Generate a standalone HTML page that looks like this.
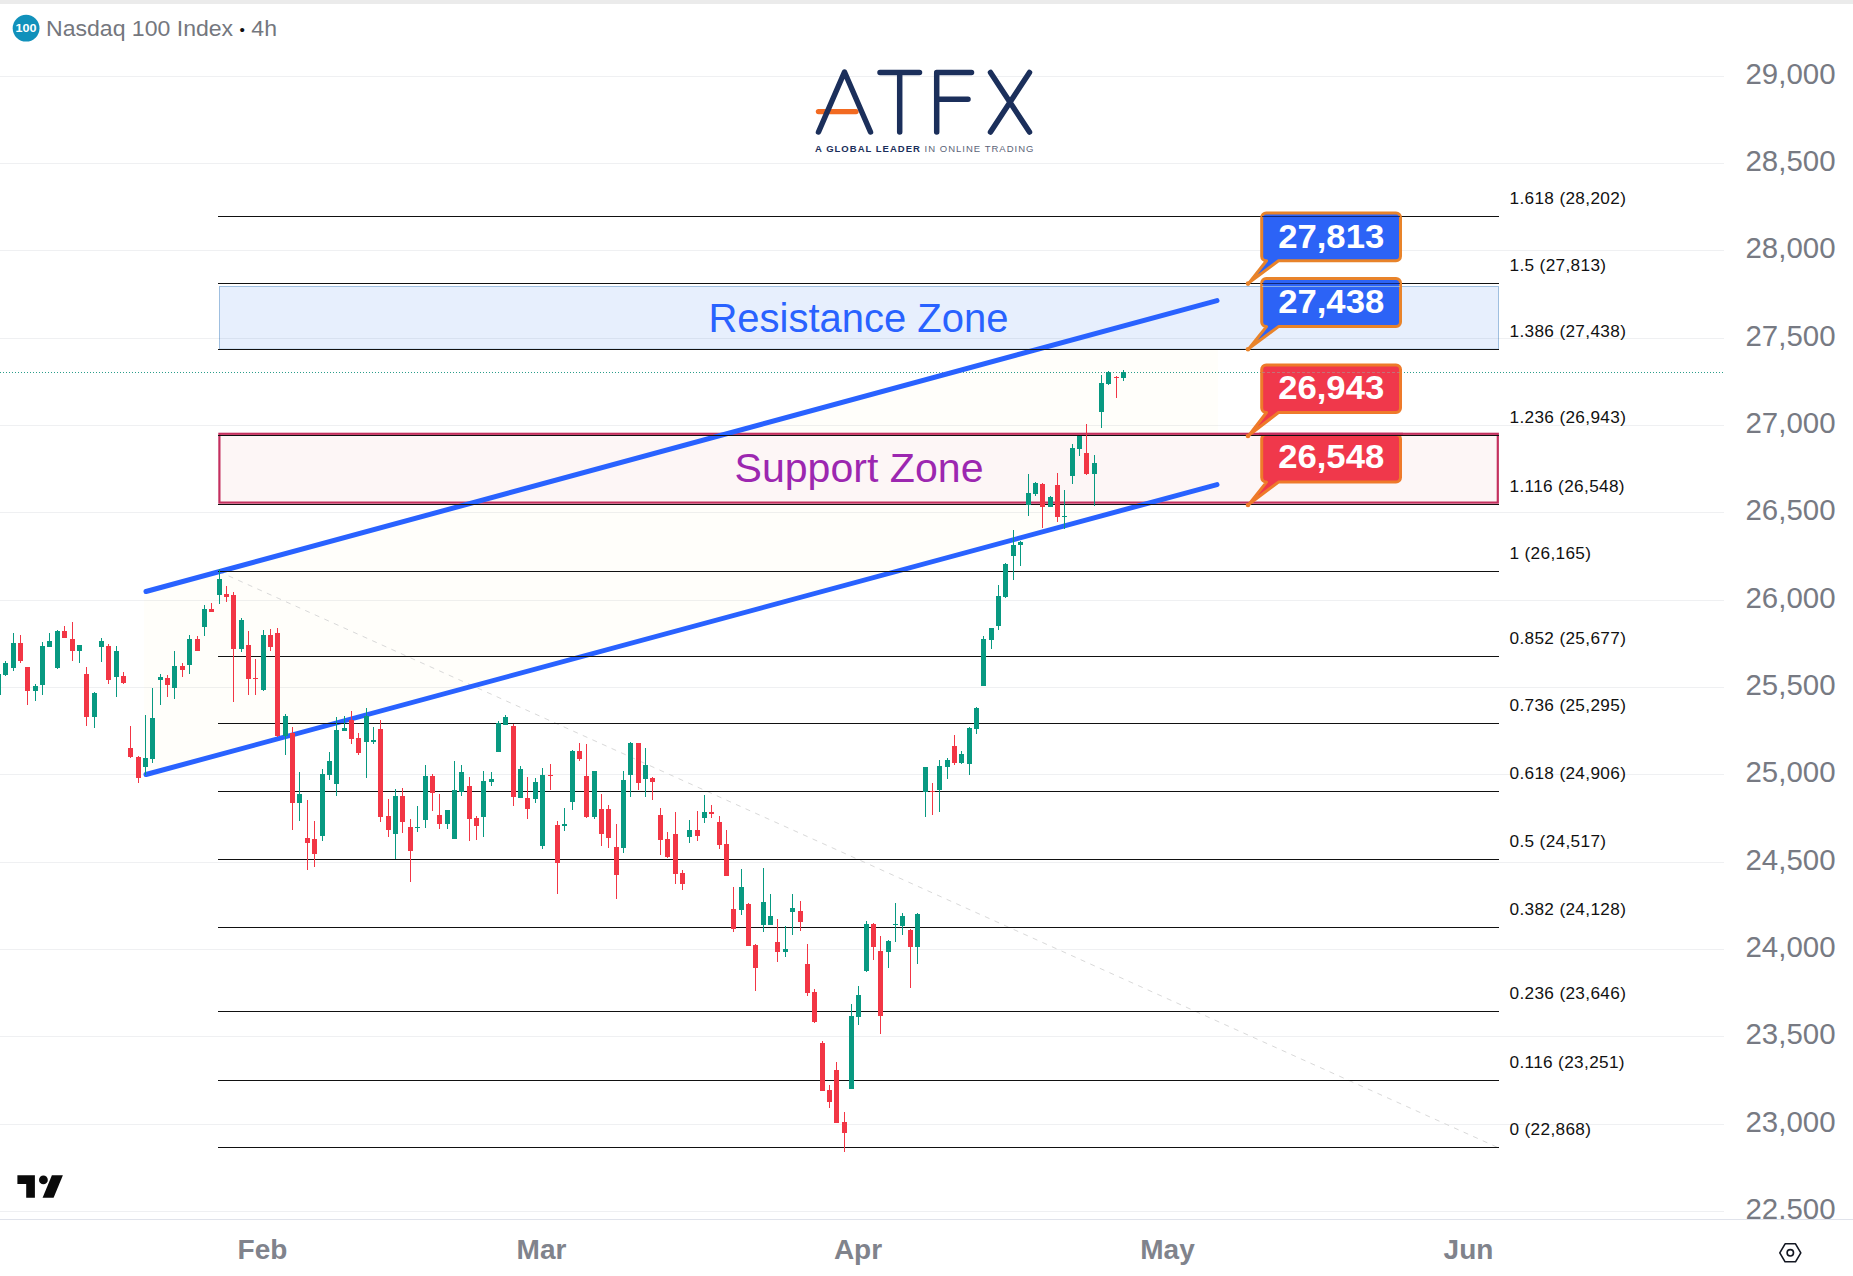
<!DOCTYPE html>
<html lang="en"><head><meta charset="utf-8"><title>Nasdaq 100 Index 4h</title>
<style>
html,body{margin:0;padding:0;background:#fff;}
body{width:1853px;height:1276px;overflow:hidden;}
svg{display:block;font-family:"Liberation Sans","DejaVu Sans",sans-serif;}
.fib{font-size:17.2px;fill:#111;letter-spacing:.35px;}
.pr{font-size:29px;fill:#777a83;}
.mon{font-size:28px;font-weight:700;fill:#80838c;}
.zone{font-size:41px;}
.co{font-size:32.5px;font-weight:700;fill:#fff;}
.hdr{font-size:22.5px;fill:#74777e;}
.hundred{font-size:11px;font-weight:700;fill:#fff;}
.tag{font-size:9.5px;}
</style></head><body>
<svg width="1853" height="1276" viewBox="0 0 1853 1276">
<polygon points="144,592 1218,300.6 1218,484.4 144,775" fill="#fffefa"/>
<rect x="219.5" y="286.5" width="1279" height="62.7" fill="#e7effd" stroke="#9fbfe0" stroke-width="1"/>
<rect x="219.4" y="433.8" width="1278.4" height="68.8" fill="#fdf6f6"/>
<line x1="0" y1="76.5" x2="1724" y2="76.5" stroke="#1a2a44" stroke-opacity="0.07" stroke-width="1"/>
<line x1="0" y1="163.5" x2="1724" y2="163.5" stroke="#1a2a44" stroke-opacity="0.07" stroke-width="1"/>
<line x1="0" y1="250.5" x2="1724" y2="250.5" stroke="#1a2a44" stroke-opacity="0.07" stroke-width="1"/>
<line x1="0" y1="338.5" x2="1724" y2="338.5" stroke="#1a2a44" stroke-opacity="0.07" stroke-width="1"/>
<line x1="0" y1="425.5" x2="1724" y2="425.5" stroke="#1a2a44" stroke-opacity="0.07" stroke-width="1"/>
<line x1="0" y1="512.5" x2="1724" y2="512.5" stroke="#1a2a44" stroke-opacity="0.07" stroke-width="1"/>
<line x1="0" y1="600.5" x2="1724" y2="600.5" stroke="#1a2a44" stroke-opacity="0.07" stroke-width="1"/>
<line x1="0" y1="687.5" x2="1724" y2="687.5" stroke="#1a2a44" stroke-opacity="0.07" stroke-width="1"/>
<line x1="0" y1="774.5" x2="1724" y2="774.5" stroke="#1a2a44" stroke-opacity="0.07" stroke-width="1"/>
<line x1="0" y1="862.5" x2="1724" y2="862.5" stroke="#1a2a44" stroke-opacity="0.07" stroke-width="1"/>
<line x1="0" y1="949.5" x2="1724" y2="949.5" stroke="#1a2a44" stroke-opacity="0.07" stroke-width="1"/>
<line x1="0" y1="1036.5" x2="1724" y2="1036.5" stroke="#1a2a44" stroke-opacity="0.07" stroke-width="1"/>
<line x1="0" y1="1124.5" x2="1724" y2="1124.5" stroke="#1a2a44" stroke-opacity="0.07" stroke-width="1"/>
<line x1="0" y1="1211.5" x2="1724" y2="1211.5" stroke="#1a2a44" stroke-opacity="0.07" stroke-width="1"/>
<rect x="219.4" y="433.8" width="1278.4" height="68.8" fill="none" stroke="#c4305f" stroke-width="2.2"/>
<line x1="219" y1="571.6" x2="1498" y2="1147.6" stroke="#d9d9d9" stroke-width="1" stroke-dasharray="5 5.5"/>
<line x1="0" y1="372.5" x2="1724" y2="372.5" stroke="#2a9d8a" stroke-width="1" stroke-dasharray="1 2"/>
<line x1="146" y1="591.5" x2="1217" y2="300.6" stroke="#2962ff" stroke-width="5" stroke-linecap="round"/>
<line x1="146" y1="774.5" x2="1217" y2="484.6" stroke="#2962ff" stroke-width="5" stroke-linecap="round"/>
<line x1="218" y1="216.5" x2="1499" y2="216.5" stroke="#111" stroke-width="1"/>
<text x="1509.5" y="204.0" class="fib">1.618 (28,202)</text>
<line x1="218" y1="283.5" x2="1499" y2="283.5" stroke="#111" stroke-width="1"/>
<text x="1509.5" y="271.0" class="fib">1.5 (27,813)</text>
<line x1="218" y1="349.5" x2="1499" y2="349.5" stroke="#111" stroke-width="1"/>
<text x="1509.5" y="337.0" class="fib">1.386 (27,438)</text>
<line x1="218" y1="435.5" x2="1499" y2="435.5" stroke="#111" stroke-width="1"/>
<text x="1509.5" y="423.0" class="fib">1.236 (26,943)</text>
<line x1="218" y1="504.5" x2="1499" y2="504.5" stroke="#111" stroke-width="1"/>
<text x="1509.5" y="492.0" class="fib">1.116 (26,548)</text>
<line x1="218" y1="571.5" x2="1499" y2="571.5" stroke="#111" stroke-width="1"/>
<text x="1509.5" y="559.0" class="fib">1 (26,165)</text>
<line x1="218" y1="656.5" x2="1499" y2="656.5" stroke="#111" stroke-width="1"/>
<text x="1509.5" y="644.0" class="fib">0.852 (25,677)</text>
<line x1="218" y1="723.5" x2="1499" y2="723.5" stroke="#111" stroke-width="1"/>
<text x="1509.5" y="711.0" class="fib">0.736 (25,295)</text>
<line x1="218" y1="791.5" x2="1499" y2="791.5" stroke="#111" stroke-width="1"/>
<text x="1509.5" y="779.0" class="fib">0.618 (24,906)</text>
<line x1="218" y1="859.5" x2="1499" y2="859.5" stroke="#111" stroke-width="1"/>
<text x="1509.5" y="847.0" class="fib">0.5 (24,517)</text>
<line x1="218" y1="927.5" x2="1499" y2="927.5" stroke="#111" stroke-width="1"/>
<text x="1509.5" y="915.0" class="fib">0.382 (24,128)</text>
<line x1="218" y1="1011.5" x2="1499" y2="1011.5" stroke="#111" stroke-width="1"/>
<text x="1509.5" y="999.0" class="fib">0.236 (23,646)</text>
<line x1="218" y1="1080.5" x2="1499" y2="1080.5" stroke="#111" stroke-width="1"/>
<text x="1509.5" y="1068.0" class="fib">0.116 (23,251)</text>
<line x1="218" y1="1147.5" x2="1499" y2="1147.5" stroke="#111" stroke-width="1"/>
<text x="1509.5" y="1135.0" class="fib">0 (22,868)</text>
<rect x="-2" y="672" width="1" height="26" fill="#089981"/>
<rect x="-4" y="674" width="5" height="21" fill="#089981"/>
<rect x="5" y="661" width="1" height="15" fill="#089981"/>
<rect x="3" y="663" width="5" height="12" fill="#089981"/>
<rect x="13" y="633" width="1" height="38" fill="#089981"/>
<rect x="11" y="643" width="5" height="25" fill="#089981"/>
<rect x="20" y="635" width="1" height="28" fill="#f23645"/>
<rect x="18" y="643" width="5" height="18" fill="#f23645"/>
<rect x="27" y="667" width="1" height="38" fill="#f23645"/>
<rect x="25" y="667" width="5" height="24" fill="#f23645"/>
<rect x="35" y="684" width="1" height="17" fill="#089981"/>
<rect x="33" y="686" width="5" height="5" fill="#089981"/>
<rect x="42" y="642" width="1" height="53" fill="#089981"/>
<rect x="40" y="646" width="5" height="39" fill="#089981"/>
<rect x="49" y="633" width="1" height="14" fill="#089981"/>
<rect x="47" y="641" width="5" height="6" fill="#089981"/>
<rect x="57" y="630" width="1" height="39" fill="#089981"/>
<rect x="55" y="631" width="5" height="37" fill="#089981"/>
<rect x="64" y="626" width="1" height="12" fill="#f23645"/>
<rect x="62" y="631" width="5" height="7" fill="#f23645"/>
<rect x="72" y="622" width="1" height="39" fill="#f23645"/>
<rect x="70" y="639" width="5" height="12" fill="#f23645"/>
<rect x="79" y="645" width="1" height="18" fill="#089981"/>
<rect x="77" y="645" width="5" height="6" fill="#089981"/>
<rect x="86" y="667" width="1" height="59" fill="#f23645"/>
<rect x="84" y="674" width="5" height="43" fill="#f23645"/>
<rect x="94" y="692" width="1" height="36" fill="#089981"/>
<rect x="92" y="693" width="5" height="24" fill="#089981"/>
<rect x="101" y="638" width="1" height="24" fill="#089981"/>
<rect x="99" y="641" width="5" height="6" fill="#089981"/>
<rect x="108" y="644" width="1" height="40" fill="#f23645"/>
<rect x="106" y="646" width="5" height="34" fill="#f23645"/>
<rect x="116" y="646" width="1" height="51" fill="#089981"/>
<rect x="114" y="651" width="5" height="26" fill="#089981"/>
<rect x="123" y="672" width="1" height="12" fill="#f23645"/>
<rect x="121" y="676" width="5" height="7" fill="#f23645"/>
<rect x="130" y="726" width="1" height="32" fill="#f23645"/>
<rect x="128" y="748" width="5" height="9" fill="#f23645"/>
<rect x="138" y="756" width="1" height="27" fill="#f23645"/>
<rect x="136" y="757" width="5" height="21" fill="#f23645"/>
<rect x="145" y="715" width="1" height="60" fill="#089981"/>
<rect x="143" y="758" width="5" height="9" fill="#089981"/>
<rect x="152" y="688" width="1" height="75" fill="#089981"/>
<rect x="150" y="718" width="5" height="41" fill="#089981"/>
<rect x="160" y="674" width="1" height="31" fill="#089981"/>
<rect x="158" y="677" width="5" height="3" fill="#089981"/>
<rect x="167" y="675" width="1" height="22" fill="#f23645"/>
<rect x="165" y="678" width="5" height="7" fill="#f23645"/>
<rect x="174" y="651" width="1" height="48" fill="#089981"/>
<rect x="172" y="666" width="5" height="22" fill="#089981"/>
<rect x="182" y="663" width="1" height="14" fill="#f23645"/>
<rect x="180" y="666" width="5" height="4" fill="#f23645"/>
<rect x="189" y="635" width="1" height="39" fill="#089981"/>
<rect x="187" y="639" width="5" height="26" fill="#089981"/>
<rect x="197" y="636" width="1" height="15" fill="#f23645"/>
<rect x="195" y="639" width="5" height="12" fill="#f23645"/>
<rect x="204" y="605" width="1" height="31" fill="#089981"/>
<rect x="202" y="609" width="5" height="18" fill="#089981"/>
<rect x="211" y="603" width="1" height="9" fill="#f23645"/>
<rect x="209" y="609" width="5" height="3" fill="#f23645"/>
<rect x="219" y="569" width="1" height="35" fill="#089981"/>
<rect x="217" y="579" width="5" height="16" fill="#089981"/>
<rect x="226" y="586" width="1" height="16" fill="#f23645"/>
<rect x="224" y="594" width="5" height="3" fill="#f23645"/>
<rect x="233" y="592" width="1" height="110" fill="#f23645"/>
<rect x="231" y="595" width="5" height="54" fill="#f23645"/>
<rect x="241" y="618" width="1" height="34" fill="#089981"/>
<rect x="239" y="620" width="5" height="29" fill="#089981"/>
<rect x="248" y="631" width="1" height="64" fill="#f23645"/>
<rect x="246" y="645" width="5" height="34" fill="#f23645"/>
<rect x="255" y="659" width="1" height="36" fill="#f23645"/>
<rect x="253" y="678" width="5" height="1" fill="#f23645"/>
<rect x="263" y="630" width="1" height="61" fill="#089981"/>
<rect x="261" y="635" width="5" height="55" fill="#089981"/>
<rect x="270" y="629" width="1" height="22" fill="#f23645"/>
<rect x="268" y="635" width="5" height="12" fill="#f23645"/>
<rect x="277" y="628" width="1" height="109" fill="#f23645"/>
<rect x="275" y="633" width="5" height="103" fill="#f23645"/>
<rect x="285" y="714" width="1" height="41" fill="#089981"/>
<rect x="283" y="716" width="5" height="20" fill="#089981"/>
<rect x="292" y="727" width="1" height="103" fill="#f23645"/>
<rect x="290" y="733" width="5" height="70" fill="#f23645"/>
<rect x="299" y="772" width="1" height="49" fill="#089981"/>
<rect x="297" y="794" width="5" height="9" fill="#089981"/>
<rect x="307" y="800" width="1" height="70" fill="#f23645"/>
<rect x="305" y="838" width="5" height="5" fill="#f23645"/>
<rect x="314" y="821" width="1" height="46" fill="#f23645"/>
<rect x="312" y="839" width="5" height="15" fill="#f23645"/>
<rect x="322" y="769" width="1" height="72" fill="#089981"/>
<rect x="320" y="774" width="5" height="62" fill="#089981"/>
<rect x="329" y="752" width="1" height="28" fill="#089981"/>
<rect x="327" y="761" width="5" height="14" fill="#089981"/>
<rect x="336" y="717" width="1" height="79" fill="#089981"/>
<rect x="334" y="730" width="5" height="54" fill="#089981"/>
<rect x="344" y="716" width="1" height="15" fill="#089981"/>
<rect x="342" y="728" width="5" height="3" fill="#089981"/>
<rect x="351" y="711" width="1" height="33" fill="#f23645"/>
<rect x="349" y="720" width="5" height="19" fill="#f23645"/>
<rect x="358" y="733" width="1" height="22" fill="#f23645"/>
<rect x="356" y="738" width="5" height="15" fill="#f23645"/>
<rect x="366" y="708" width="1" height="70" fill="#089981"/>
<rect x="364" y="716" width="5" height="26" fill="#089981"/>
<rect x="373" y="727" width="1" height="17" fill="#089981"/>
<rect x="371" y="740" width="5" height="2" fill="#089981"/>
<rect x="380" y="720" width="1" height="102" fill="#f23645"/>
<rect x="378" y="729" width="5" height="88" fill="#f23645"/>
<rect x="388" y="799" width="1" height="38" fill="#f23645"/>
<rect x="386" y="816" width="5" height="14" fill="#f23645"/>
<rect x="395" y="789" width="1" height="70" fill="#089981"/>
<rect x="393" y="796" width="5" height="38" fill="#089981"/>
<rect x="402" y="788" width="1" height="45" fill="#f23645"/>
<rect x="400" y="796" width="5" height="26" fill="#f23645"/>
<rect x="410" y="819" width="1" height="63" fill="#f23645"/>
<rect x="408" y="827" width="5" height="24" fill="#f23645"/>
<rect x="417" y="806" width="1" height="26" fill="#089981"/>
<rect x="415" y="827" width="5" height="1" fill="#089981"/>
<rect x="425" y="765" width="1" height="63" fill="#089981"/>
<rect x="423" y="776" width="5" height="44" fill="#089981"/>
<rect x="432" y="774" width="1" height="37" fill="#f23645"/>
<rect x="430" y="776" width="5" height="17" fill="#f23645"/>
<rect x="439" y="794" width="1" height="35" fill="#f23645"/>
<rect x="437" y="815" width="5" height="9" fill="#f23645"/>
<rect x="447" y="810" width="1" height="19" fill="#089981"/>
<rect x="445" y="810" width="5" height="14" fill="#089981"/>
<rect x="454" y="761" width="1" height="78" fill="#089981"/>
<rect x="452" y="790" width="5" height="49" fill="#089981"/>
<rect x="461" y="765" width="1" height="31" fill="#089981"/>
<rect x="459" y="772" width="5" height="20" fill="#089981"/>
<rect x="469" y="777" width="1" height="64" fill="#f23645"/>
<rect x="467" y="786" width="5" height="33" fill="#f23645"/>
<rect x="476" y="816" width="1" height="24" fill="#f23645"/>
<rect x="474" y="818" width="5" height="8" fill="#f23645"/>
<rect x="483" y="771" width="1" height="66" fill="#089981"/>
<rect x="481" y="781" width="5" height="36" fill="#089981"/>
<rect x="491" y="772" width="1" height="14" fill="#089981"/>
<rect x="489" y="779" width="5" height="3" fill="#089981"/>
<rect x="498" y="721" width="1" height="31" fill="#089981"/>
<rect x="496" y="723" width="5" height="29" fill="#089981"/>
<rect x="505" y="715" width="1" height="10" fill="#089981"/>
<rect x="503" y="717" width="5" height="8" fill="#089981"/>
<rect x="513" y="724" width="1" height="82" fill="#f23645"/>
<rect x="511" y="726" width="5" height="71" fill="#f23645"/>
<rect x="520" y="766" width="1" height="32" fill="#089981"/>
<rect x="518" y="769" width="5" height="29" fill="#089981"/>
<rect x="527" y="777" width="1" height="42" fill="#f23645"/>
<rect x="525" y="798" width="5" height="11" fill="#f23645"/>
<rect x="535" y="778" width="1" height="25" fill="#089981"/>
<rect x="533" y="782" width="5" height="17" fill="#089981"/>
<rect x="542" y="768" width="1" height="81" fill="#089981"/>
<rect x="540" y="775" width="5" height="71" fill="#089981"/>
<rect x="550" y="764" width="1" height="26" fill="#f23645"/>
<rect x="548" y="775" width="5" height="1" fill="#f23645"/>
<rect x="557" y="821" width="1" height="73" fill="#f23645"/>
<rect x="555" y="825" width="5" height="38" fill="#f23645"/>
<rect x="564" y="808" width="1" height="23" fill="#089981"/>
<rect x="562" y="824" width="5" height="2" fill="#089981"/>
<rect x="572" y="750" width="1" height="60" fill="#089981"/>
<rect x="570" y="751" width="5" height="51" fill="#089981"/>
<rect x="579" y="743" width="1" height="18" fill="#f23645"/>
<rect x="577" y="751" width="5" height="8" fill="#f23645"/>
<rect x="586" y="744" width="1" height="74" fill="#f23645"/>
<rect x="584" y="776" width="5" height="41" fill="#f23645"/>
<rect x="594" y="771" width="1" height="48" fill="#089981"/>
<rect x="592" y="771" width="5" height="46" fill="#089981"/>
<rect x="601" y="794" width="1" height="52" fill="#f23645"/>
<rect x="599" y="809" width="5" height="25" fill="#f23645"/>
<rect x="608" y="805" width="1" height="43" fill="#f23645"/>
<rect x="606" y="809" width="5" height="29" fill="#f23645"/>
<rect x="616" y="824" width="1" height="75" fill="#f23645"/>
<rect x="614" y="847" width="5" height="28" fill="#f23645"/>
<rect x="623" y="771" width="1" height="82" fill="#089981"/>
<rect x="621" y="780" width="5" height="68" fill="#089981"/>
<rect x="630" y="742" width="1" height="55" fill="#089981"/>
<rect x="628" y="743" width="5" height="32" fill="#089981"/>
<rect x="638" y="743" width="1" height="47" fill="#f23645"/>
<rect x="636" y="743" width="5" height="40" fill="#f23645"/>
<rect x="645" y="748" width="1" height="49" fill="#089981"/>
<rect x="643" y="765" width="5" height="14" fill="#089981"/>
<rect x="652" y="777" width="1" height="23" fill="#f23645"/>
<rect x="650" y="778" width="5" height="4" fill="#f23645"/>
<rect x="660" y="808" width="1" height="47" fill="#f23645"/>
<rect x="658" y="815" width="5" height="25" fill="#f23645"/>
<rect x="667" y="832" width="1" height="26" fill="#f23645"/>
<rect x="665" y="839" width="5" height="18" fill="#f23645"/>
<rect x="675" y="812" width="1" height="72" fill="#f23645"/>
<rect x="673" y="834" width="5" height="40" fill="#f23645"/>
<rect x="682" y="870" width="1" height="20" fill="#f23645"/>
<rect x="680" y="873" width="5" height="11" fill="#f23645"/>
<rect x="689" y="820" width="1" height="23" fill="#089981"/>
<rect x="687" y="830" width="5" height="7" fill="#089981"/>
<rect x="697" y="811" width="1" height="30" fill="#f23645"/>
<rect x="695" y="830" width="5" height="6" fill="#f23645"/>
<rect x="704" y="795" width="1" height="28" fill="#089981"/>
<rect x="702" y="812" width="5" height="6" fill="#089981"/>
<rect x="711" y="805" width="1" height="13" fill="#f23645"/>
<rect x="709" y="812" width="5" height="2" fill="#f23645"/>
<rect x="719" y="816" width="1" height="33" fill="#f23645"/>
<rect x="717" y="822" width="5" height="23" fill="#f23645"/>
<rect x="726" y="830" width="1" height="46" fill="#f23645"/>
<rect x="724" y="844" width="5" height="32" fill="#f23645"/>
<rect x="733" y="887" width="1" height="45" fill="#f23645"/>
<rect x="731" y="909" width="5" height="20" fill="#f23645"/>
<rect x="741" y="869" width="1" height="46" fill="#089981"/>
<rect x="739" y="887" width="5" height="23" fill="#089981"/>
<rect x="748" y="903" width="1" height="43" fill="#f23645"/>
<rect x="746" y="904" width="5" height="42" fill="#f23645"/>
<rect x="755" y="944" width="1" height="47" fill="#f23645"/>
<rect x="753" y="945" width="5" height="23" fill="#f23645"/>
<rect x="763" y="868" width="1" height="64" fill="#089981"/>
<rect x="761" y="902" width="5" height="23" fill="#089981"/>
<rect x="770" y="894" width="1" height="31" fill="#089981"/>
<rect x="768" y="916" width="5" height="9" fill="#089981"/>
<rect x="777" y="919" width="1" height="43" fill="#f23645"/>
<rect x="775" y="942" width="5" height="10" fill="#f23645"/>
<rect x="785" y="926" width="1" height="31" fill="#089981"/>
<rect x="783" y="949" width="5" height="3" fill="#089981"/>
<rect x="792" y="894" width="1" height="41" fill="#089981"/>
<rect x="790" y="908" width="5" height="4" fill="#089981"/>
<rect x="800" y="901" width="1" height="30" fill="#f23645"/>
<rect x="798" y="911" width="5" height="11" fill="#f23645"/>
<rect x="807" y="944" width="1" height="52" fill="#f23645"/>
<rect x="805" y="964" width="5" height="29" fill="#f23645"/>
<rect x="814" y="989" width="1" height="34" fill="#f23645"/>
<rect x="812" y="992" width="5" height="30" fill="#f23645"/>
<rect x="822" y="1041" width="1" height="50" fill="#f23645"/>
<rect x="820" y="1043" width="5" height="48" fill="#f23645"/>
<rect x="829" y="1085" width="1" height="23" fill="#f23645"/>
<rect x="827" y="1090" width="5" height="12" fill="#f23645"/>
<rect x="836" y="1062" width="1" height="61" fill="#f23645"/>
<rect x="834" y="1070" width="5" height="53" fill="#f23645"/>
<rect x="844" y="1112" width="1" height="40" fill="#f23645"/>
<rect x="842" y="1122" width="5" height="11" fill="#f23645"/>
<rect x="851" y="1004" width="1" height="85" fill="#089981"/>
<rect x="849" y="1016" width="5" height="73" fill="#089981"/>
<rect x="858" y="986" width="1" height="39" fill="#089981"/>
<rect x="856" y="995" width="5" height="22" fill="#089981"/>
<rect x="866" y="921" width="1" height="51" fill="#089981"/>
<rect x="864" y="924" width="5" height="47" fill="#089981"/>
<rect x="873" y="923" width="1" height="37" fill="#f23645"/>
<rect x="871" y="924" width="5" height="23" fill="#f23645"/>
<rect x="880" y="936" width="1" height="98" fill="#f23645"/>
<rect x="878" y="951" width="5" height="65" fill="#f23645"/>
<rect x="888" y="940" width="1" height="28" fill="#089981"/>
<rect x="886" y="941" width="5" height="11" fill="#089981"/>
<rect x="895" y="903" width="1" height="39" fill="#089981"/>
<rect x="893" y="924" width="5" height="1" fill="#089981"/>
<rect x="902" y="913" width="1" height="22" fill="#089981"/>
<rect x="900" y="916" width="5" height="10" fill="#089981"/>
<rect x="910" y="929" width="1" height="59" fill="#f23645"/>
<rect x="908" y="930" width="5" height="17" fill="#f23645"/>
<rect x="917" y="913" width="1" height="51" fill="#089981"/>
<rect x="915" y="914" width="5" height="33" fill="#089981"/>
<rect x="925" y="767" width="1" height="50" fill="#089981"/>
<rect x="923" y="767" width="5" height="25" fill="#089981"/>
<rect x="932" y="783" width="1" height="32" fill="#f23645"/>
<rect x="930" y="791" width="5" height="1" fill="#f23645"/>
<rect x="939" y="760" width="1" height="52" fill="#089981"/>
<rect x="937" y="766" width="5" height="24" fill="#089981"/>
<rect x="947" y="758" width="1" height="21" fill="#089981"/>
<rect x="945" y="760" width="5" height="7" fill="#089981"/>
<rect x="954" y="735" width="1" height="30" fill="#f23645"/>
<rect x="952" y="746" width="5" height="17" fill="#f23645"/>
<rect x="961" y="751" width="1" height="13" fill="#089981"/>
<rect x="959" y="754" width="5" height="9" fill="#089981"/>
<rect x="969" y="727" width="1" height="48" fill="#089981"/>
<rect x="967" y="728" width="5" height="36" fill="#089981"/>
<rect x="976" y="707" width="1" height="27" fill="#089981"/>
<rect x="974" y="708" width="5" height="21" fill="#089981"/>
<rect x="983" y="636" width="1" height="50" fill="#089981"/>
<rect x="981" y="639" width="5" height="47" fill="#089981"/>
<rect x="991" y="628" width="1" height="21" fill="#089981"/>
<rect x="989" y="628" width="5" height="12" fill="#089981"/>
<rect x="998" y="585" width="1" height="45" fill="#089981"/>
<rect x="996" y="596" width="5" height="30" fill="#089981"/>
<rect x="1005" y="563" width="1" height="35" fill="#089981"/>
<rect x="1003" y="564" width="5" height="33" fill="#089981"/>
<rect x="1013" y="530" width="1" height="50" fill="#089981"/>
<rect x="1011" y="545" width="5" height="11" fill="#089981"/>
<rect x="1020" y="541" width="1" height="25" fill="#089981"/>
<rect x="1018" y="542" width="5" height="3" fill="#089981"/>
<rect x="1028" y="474" width="1" height="42" fill="#089981"/>
<rect x="1026" y="493" width="5" height="12" fill="#089981"/>
<rect x="1035" y="482" width="1" height="14" fill="#089981"/>
<rect x="1033" y="483" width="5" height="11" fill="#089981"/>
<rect x="1042" y="483" width="1" height="45" fill="#f23645"/>
<rect x="1040" y="484" width="5" height="23" fill="#f23645"/>
<rect x="1050" y="496" width="1" height="11" fill="#089981"/>
<rect x="1048" y="497" width="5" height="10" fill="#089981"/>
<rect x="1057" y="473" width="1" height="49" fill="#f23645"/>
<rect x="1055" y="485" width="5" height="32" fill="#f23645"/>
<rect x="1064" y="490" width="1" height="39" fill="#089981"/>
<rect x="1062" y="516" width="5" height="1" fill="#089981"/>
<rect x="1072" y="444" width="1" height="40" fill="#089981"/>
<rect x="1070" y="448" width="5" height="28" fill="#089981"/>
<rect x="1079" y="436" width="1" height="20" fill="#089981"/>
<rect x="1077" y="436" width="5" height="13" fill="#089981"/>
<rect x="1086" y="424" width="1" height="51" fill="#f23645"/>
<rect x="1084" y="453" width="5" height="21" fill="#f23645"/>
<rect x="1094" y="455" width="1" height="51" fill="#089981"/>
<rect x="1092" y="463" width="5" height="11" fill="#089981"/>
<rect x="1101" y="375" width="1" height="53" fill="#089981"/>
<rect x="1099" y="383" width="5" height="29" fill="#089981"/>
<rect x="1108" y="371" width="1" height="14" fill="#089981"/>
<rect x="1106" y="372" width="5" height="12" fill="#089981"/>
<rect x="1116" y="376" width="1" height="22" fill="#f23645"/>
<rect x="1114" y="377" width="5" height="1" fill="#f23645"/>
<rect x="1123" y="370" width="1" height="11" fill="#089981"/>
<rect x="1121" y="372" width="5" height="6" fill="#089981"/>
<text x="858.5" y="331.5" text-anchor="middle" class="zone" fill="#2962ff" textLength="300" lengthAdjust="spacingAndGlyphs">Resistance Zone</text>
<text x="859" y="481.5" text-anchor="middle" class="zone" fill="#9c27b0" textLength="249" lengthAdjust="spacingAndGlyphs">Support Zone</text>
<path d="M1266.2,213.0 H1396.0 A4.5,4.5 0 0 1 1400.5,217.5 V256.2 A4.5,4.5 0 0 1 1396.0,260.7 H1278.5 L1249.2,282.6 L1266.5,260.7 H1266.2 A4.5,4.5 0 0 1 1261.7,256.2 V217.5 A4.5,4.5 0 0 1 1266.2,213.0 Z" fill="#2c63f6" stroke="#e8832a" stroke-width="3.0" stroke-linejoin="round"/><circle cx="1248" cy="283.6" r="2.3" fill="#e8832a"/><text x="1331.2" y="248.1" text-anchor="middle" class="co" textLength="106" lengthAdjust="spacingAndGlyphs">27,813</text>
<path d="M1266.2,278.5 H1396.0 A4.5,4.5 0 0 1 1400.5,283.0 V322.1 A4.5,4.5 0 0 1 1396.0,326.6 H1278.5 L1249.2,348.2 L1266.5,326.6 H1266.2 A4.5,4.5 0 0 1 1261.7,322.1 V283.0 A4.5,4.5 0 0 1 1266.2,278.5 Z" fill="#2c63f6" stroke="#e8832a" stroke-width="3.0" stroke-linejoin="round"/><circle cx="1248" cy="349.2" r="2.3" fill="#e8832a"/><text x="1331.2" y="312.8" text-anchor="middle" class="co" textLength="106" lengthAdjust="spacingAndGlyphs">27,438</text>
<path d="M1266.2,365.0 H1396.0 A4.5,4.5 0 0 1 1400.5,369.5 V408.0 A4.5,4.5 0 0 1 1396.0,412.5 H1278.5 L1249.2,435 L1266.5,412.5 H1266.2 A4.5,4.5 0 0 1 1261.7,408.0 V369.5 A4.5,4.5 0 0 1 1266.2,365.0 Z" fill="#f0384b" stroke="#ee7a2a" stroke-width="3.0" stroke-linejoin="round"/><circle cx="1248" cy="436" r="2.3" fill="#ee7a2a"/><text x="1331.2" y="398.9" text-anchor="middle" class="co" textLength="106" lengthAdjust="spacingAndGlyphs">26,943</text>
<path d="M1266.2,434.5 H1396.0 A4.5,4.5 0 0 1 1400.5,439.0 V477.6 A4.5,4.5 0 0 1 1396.0,482.1 H1278.5 L1249.2,504 L1266.5,482.1 H1266.2 A4.5,4.5 0 0 1 1261.7,477.6 V439.0 A4.5,4.5 0 0 1 1266.2,434.5 Z" fill="#f0384b" stroke="#ee7a2a" stroke-width="3.0" stroke-linejoin="round"/><circle cx="1248" cy="505" r="2.3" fill="#ee7a2a"/><text x="1331.2" y="467.8" text-anchor="middle" class="co" textLength="106" lengthAdjust="spacingAndGlyphs">26,548</text>
<line x1="1262" y1="216.5" x2="1400" y2="216.5" stroke="#0a1a5c" stroke-width="1" opacity=".8"/>
<line x1="1262" y1="283.5" x2="1400" y2="283.5" stroke="#0a1a5c" stroke-width="1" opacity=".8"/>
<line x1="1262" y1="286.5" x2="1400" y2="286.5" stroke="#9fbfe0" stroke-width="1" opacity=".8"/>
<line x1="1262" y1="372.5" x2="1400" y2="372.5" stroke="#b08a8a" stroke-width="1" stroke-dasharray="3 2" opacity=".7"/>
<line x1="1259" y1="433.8" x2="1403" y2="433.8" stroke="#c4305f" stroke-width="2.2"/>
<line x1="1259" y1="435.5" x2="1403" y2="435.5" stroke="#111" stroke-width="1"/>
<text x="1835.5" y="83.5" text-anchor="end" class="pr" textLength="90" lengthAdjust="spacingAndGlyphs">29,000</text>
<text x="1835.5" y="170.8" text-anchor="end" class="pr" textLength="90" lengthAdjust="spacingAndGlyphs">28,500</text>
<text x="1835.5" y="258.2" text-anchor="end" class="pr" textLength="90" lengthAdjust="spacingAndGlyphs">28,000</text>
<text x="1835.5" y="345.5" text-anchor="end" class="pr" textLength="90" lengthAdjust="spacingAndGlyphs">27,500</text>
<text x="1835.5" y="432.9" text-anchor="end" class="pr" textLength="90" lengthAdjust="spacingAndGlyphs">27,000</text>
<text x="1835.5" y="520.2" text-anchor="end" class="pr" textLength="90" lengthAdjust="spacingAndGlyphs">26,500</text>
<text x="1835.5" y="607.6" text-anchor="end" class="pr" textLength="90" lengthAdjust="spacingAndGlyphs">26,000</text>
<text x="1835.5" y="694.9" text-anchor="end" class="pr" textLength="90" lengthAdjust="spacingAndGlyphs">25,500</text>
<text x="1835.5" y="782.3" text-anchor="end" class="pr" textLength="90" lengthAdjust="spacingAndGlyphs">25,000</text>
<text x="1835.5" y="869.6" text-anchor="end" class="pr" textLength="90" lengthAdjust="spacingAndGlyphs">24,500</text>
<text x="1835.5" y="957.0" text-anchor="end" class="pr" textLength="90" lengthAdjust="spacingAndGlyphs">24,000</text>
<text x="1835.5" y="1044.3" text-anchor="end" class="pr" textLength="90" lengthAdjust="spacingAndGlyphs">23,500</text>
<text x="1835.5" y="1131.7" text-anchor="end" class="pr" textLength="90" lengthAdjust="spacingAndGlyphs">23,000</text>
<text x="1835.5" y="1219.0" text-anchor="end" class="pr" textLength="90" lengthAdjust="spacingAndGlyphs">22,500</text>
<rect x="0" y="1220" width="1853" height="56" fill="#fff"/>
<line x1="0" y1="1219.5" x2="1853" y2="1219.5" stroke="#e0e3eb" stroke-width="1"/>
<text x="262.5" y="1259" text-anchor="middle" class="mon">Feb</text>
<text x="541.5" y="1259" text-anchor="middle" class="mon">Mar</text>
<text x="858" y="1259" text-anchor="middle" class="mon">Apr</text>
<text x="1167.5" y="1259" text-anchor="middle" class="mon">May</text>
<text x="1468.5" y="1259" text-anchor="middle" class="mon">Jun</text>
<g transform="translate(1790.3,1252.8)" fill="none" stroke="#131722" stroke-width="1.6"><polygon points="-10.5,0 -5.2,-9 5.2,-9 10.5,0 5.2,9 -5.2,9" stroke-linejoin="round"/><circle r="3.2"/></g>
<g transform="translate(17.4,1175.3)" fill="#0a0a0a"><path d="M0,0 H17.5 V22.5 H8.8 V8.8 H0 Z"/><circle cx="26" cy="4.6" r="4.4"/><path d="M34.5,0 H45.5 L36.2,22.5 H25.2 Z"/></g>
<circle cx="26.1" cy="28.2" r="13.4" fill="#1191bb"/>
<text x="26.1" y="32.2" text-anchor="middle" class="hundred" textLength="21" lengthAdjust="spacingAndGlyphs">100</text>
<text x="46" y="36.2" class="hdr" textLength="231" lengthAdjust="spacingAndGlyphs">Nasdaq 100 Index <tspan font-size="15" dy="-1.5" fill="#111">•</tspan><tspan dy="1.5"> 4h</tspan></text>
<rect x="0" y="0" width="1853" height="4" fill="#ebebeb"/>
<line x1="818.5" y1="111.6" x2="856" y2="111.6" stroke="#f26a21" stroke-width="5.4" stroke-linecap="round"/>
<g fill="none" stroke="#1b2f5b" stroke-width="5.5" stroke-linecap="round" stroke-linejoin="round"><path d="M818.5,132 L844.5,72 L870.5,132"/><path d="M880,72.5 H919.5 M899.7,72.5 V132"/><path d="M936.7,132 V72.5 H971.5 M936.7,99.2 H968"/><path d="M990.5,72.5 L1029.5,132 M1029.5,72.5 L990.5,132"/></g>
<text x="815" y="152" class="tag" textLength="218.5"><tspan font-weight="700" fill="#1b2f5b">A GLOBAL LEADER</tspan><tspan fill="#5b6478"> IN ONLINE TRADING</tspan></text>
</svg>
</body></html>
